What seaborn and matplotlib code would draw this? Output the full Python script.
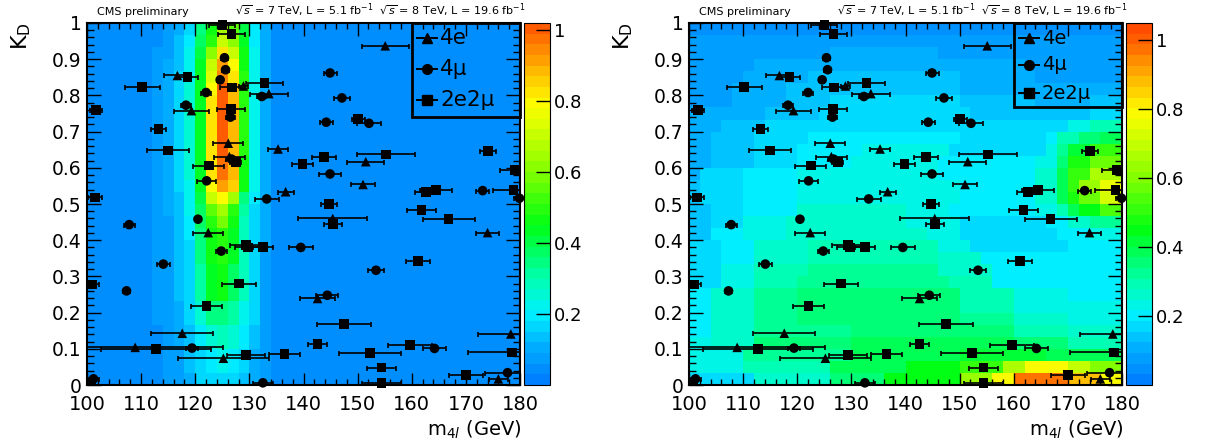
import numpy as np
import pandas as pd
import matplotlib
matplotlib.use("Agg")
import matplotlib.pyplot as plt
from matplotlib.colors import LinearSegmentedColormap, ListedColormap
from matplotlib.patches import Rectangle
from matplotlib.lines import Line2D
from matplotlib.ticker import MultipleLocator, FuncFormatter
import seaborn as sns

plt.rcParams["font.family"] = ["DejaVu Sans"]

# ---------------------------------------------------------------- events
# 4e candidates: m4l (GeV), K_D, per-event mass uncertainty (GeV)
m_4e = [116.7, 128.9, 133.6, 119.3, 126.1, 135.3, 126.3, 136.7, 155.1, 151.5,
        151.0, 122.4, 117.6, 108.9, 125.2, 145.4, 174.0, 142.6, 178.3, 176.0, 100.9]
kd_4e = [0.855, 0.826, 0.805, 0.758, 0.668, 0.652, 0.631, 0.534, 0.937, 0.617,
         0.554, 0.421, 0.143, 0.104, 0.074, 0.460, 0.421, 0.239, 0.141, 0.017, 0.012]
err_4e = [2.5, 0.8, 3.5, 3.3, 2.8, 1.8, 2.9, 1.5, 4.3, 3.45,
          2.2, 2.8, 5.7, 16.3, 8.4, 6.4, 2.2, 3.2, 6.1, 1.7, 0.5]

# 4mu candidates
m_4mu = [125.4, 125.6, 124.6, 122.0, 132.3, 118.3, 126.5, 126.7, 122.1, 133.2,
         144.9, 147.1, 144.2, 152.1, 144.9, 173.1, 179.9, 107.8, 120.5, 124.8,
         139.5, 114.1, 107.3, 119.4, 101.2, 132.5, 164.2, 153.4, 144.4, 177.7]
kd_4mu = [0.904, 0.871, 0.843, 0.808, 0.797, 0.773, 0.740, 0.624, 0.564, 0.514,
          0.862, 0.793, 0.726, 0.723, 0.583, 0.537, 0.516, 0.443, 0.458, 0.370,
          0.380, 0.334, 0.260, 0.102, 0.017, 0.006, 0.101, 0.317, 0.248, 0.034]
err_4mu = [0.6, 0.6, 0.6, 1.0, 0.8, 1.0, 0.8, 1.0, 1.8, 2.2,
           1.2, 1.4, 1.2, 2.3, 2.0, 1.2, 1.0, 1.0, 0.6, 1.0,
           2.2, 1.2, 0.6, 1.2, 1.0, 1.8, 2.2, 1.5, 2.0, 4.2]

# 2e2mu candidates
m_2e2mu = [125.0, 126.7, 118.6, 110.2, 126.8, 132.8, 101.7, 126.6, 113.2, 115.0,
           127.5, 122.5, 139.8, 101.5, 150.1, 174.1, 143.8, 155.2, 162.6, 164.5,
           178.8, 179.1, 129.4, 129.8, 132.5, 101.0, 128.1, 122.1, 112.7, 129.4,
           136.5, 144.7, 145.4, 161.8, 166.8, 161.1, 147.5, 142.6, 159.7, 152.3,
           178.5, 154.4, 170.0, 154.4]
kd_2e2mu = [0.994, 0.969, 0.851, 0.823, 0.822, 0.834, 0.760, 0.763, 0.707, 0.648,
            0.616, 0.606, 0.610, 0.518, 0.734, 0.647, 0.629, 0.637, 0.534, 0.539,
            0.539, 0.594, 0.387, 0.380, 0.382, 0.278, 0.280, 0.219, 0.099, 0.083,
            0.086, 0.500, 0.444, 0.484, 0.459, 0.343, 0.169, 0.114, 0.111, 0.088,
            0.090, 0.048, 0.028, 0.006]
err_2e2mu = [2.4, 2.45, 2.0, 3.2, 2.2, 3.5, 1.1, 2.5, 1.4, 3.85,
             1.0, 2.85, 2.0, 1.3, 1.2, 1.4, 2.15, 5.4, 2.0, 3.0,
             3.7, 2.8, 3.0, 2.5, 1.8, 1.2, 3.1, 2.9, 10.2, 3.5,
             2.8, 1.4, 1.7, 2.75, 4.8, 2.2, 5.0, 1.8, 4.0, 5.7,
             8.1, 2.7, 3.2, 3.6]

# ---------------------------------------------------------------- templates
# 2 GeV mass bins from 100 to 180, 30 K_D bins; rows run from K_D = 1 down to 0
mass_centers = np.arange(101, 180, 2)
kd_centers = (np.arange(30)[::-1] + 0.5) / 30

# signal template (percent): level outside 110-136 GeV, and the band 110-136 GeV
sig_floor = 3
sig_band = [
    "3 5 7 10 18 35 45 65 55 40 20 10 5",
    "3 5 8 12 20 38 50 72 62 42 20 10 5",
    "4 6 9 13 22 40 60 82 72 45 22 11 5",
    "5 7 10 14 22 42 70 90 80 47 22 11 5",
    "5 7 10 15 23 42 75 93 83 48 22 11 5",
    "5 7 10 15 24 43 80 100 87 48 22 11 5",
    "5 7 10 15 24 43 82 100 88 48 22 11 5",
    "5 7 10 15 24 43 82 100 88 48 22 11 5",
    "5 7 10 15 24 43 82 100 88 48 22 11 5",
    "5 7 10 15 24 43 82 100 88 48 22 11 5",
    "5 7 10 15 24 43 82 100 88 48 22 11 5",
    "5 7 10 15 24 43 82 97 87 47 22 11 5",
    "5 7 10 15 24 43 82 97 87 47 22 11 5",
    "5 7 10 15 23 42 80 92 85 45 22 11 5",
    "5 7 10 14 22 40 70 80 65 35 20 10 5",
    "5 7 10 14 21 38 55 65 50 30 18 10 5",
    "5 7 9 13 20 38 50 58 45 28 17 10 5",
    "5 7 9 13 19 35 47 50 43 27 17 10 5",
    "5 6 9 12 18 33 45 48 42 27 17 10 5",
    "5 6 9 12 18 33 45 48 42 27 17 9 5",
    "5 6 8 12 17 30 42 45 38 27 16 9 5",
    "5 6 8 12 17 30 42 45 38 27 16 9 5",
    "5 6 8 12 17 30 42 45 38 27 16 9 5",
    "4 6 8 11 16 24 33 35 30 22 15 9 4",
    "4 6 8 11 16 24 33 35 30 22 15 9 4",
    "4 5 7 10 14 20 25 27 25 20 13 8 4",
    "4 5 7 10 14 20 25 27 25 20 13 8 4",
    "4 5 7 9 12 17 20 22 20 15 11 7 4",
    "4 5 7 9 12 17 20 22 20 15 11 7 4",
    "4 5 6 8 11 15 17 17 17 14 10 6 4",
]

# background template (percent), each row as runs of (number of bins, value)
bkg_runs = [
    [(16, 6), (24, 4)],
    [(13, 8), (7, 9), (10, 8), (10, 7)],
    [(8, 8), (5, 9), (10, 11), (7, 9), (10, 8)],
    [(6, 8), (6, 10), (13, 12), (6, 10), (9, 8)],
    [(5, 8), (6, 10), (14, 13), (7, 11), (8, 9)],
    [(4, 9), (5, 11), (6, 13), (10, 15), (7, 12), (8, 10)],
    [(4, 9), (5, 12), (4, 14), (12, 16), (7, 14), (5, 12), (3, 13)],
    [(3, 10), (4, 12), (5, 15), (14, 17), (8, 15), (3, 14), (3, 17)],
    [(3, 10), (4, 13), (4, 16), (15, 18), (7, 16), (2, 18), (2, 24), (3, 30)],
    [(2, 11), (4, 14), (5, 17), (6, 19), (8, 20), (8, 17), (1, 20), (2, 28), (2, 35), (2, 40)],
    [(2, 12), (4, 15), (4, 17), (6, 20), (8, 22), (9, 18), (1, 22), (1, 32), (2, 42), (3, 50)],
    [(2, 12), (4, 15), (4, 18), (5, 21), (8, 23), (9, 19), (2, 24), (1, 35), (2, 48), (3, 58)],
    [(1, 12), (4, 16), (5, 19), (5, 22), (8, 24), (9, 19), (2, 25), (1, 38), (2, 52), (3, 65)],
    [(1, 13), (4, 16), (5, 20), (11, 24), (4, 22), (7, 19), (2, 26), (1, 40), (1, 52), (2, 62), (2, 75)],
    [(1, 13), (4, 17), (5, 20), (10, 24), (5, 22), (7, 19), (2, 25), (1, 38), (1, 48), (2, 58), (2, 72)],
    [(2, 14), (3, 17), (5, 21), (10, 25), (4, 23), (8, 19), (2, 22), (1, 30), (1, 38), (2, 45), (2, 55)],
    [(2, 15), (3, 18), (4, 22), (11, 26), (5, 23), (8, 18), (2, 20), (2, 25), (3, 32)],
    [(2, 15), (3, 19), (4, 23), (13, 27), (3, 23), (9, 18), (3, 19), (3, 22)],
    [(3, 16), (3, 20), (5, 25), (12, 28), (3, 23), (9, 18), (5, 19)],
    [(3, 17), (3, 21), (5, 27), (12, 30), (4, 25), (8, 19), (5, 19)],
    [(3, 18), (3, 23), (5, 29), (12, 32), (5, 27), (7, 20), (5, 20)],
    [(3, 18), (3, 23), (4, 30), (14, 33), (4, 28), (7, 21), (5, 20)],
    [(2, 19), (4, 25), (4, 31), (15, 34), (5, 29), (5, 23), (5, 21)],
    [(2, 20), (4, 26), (4, 32), (15, 35), (5, 30), (5, 24), (5, 22)],
    [(2, 20), (4, 26), (4, 32), (15, 36), (5, 31), (5, 26), (5, 23)],
    [(2, 21), (4, 27), (9, 33), (15, 37), (5, 30), (5, 27)],
    [(2, 22), (4, 27), (9, 34), (15, 38), (5, 34), (5, 30)],
    [(5, 24), (10, 33), (10, 40), (8, 43), (7, 38)],
    [(5, 22), (8, 30), (7, 40), (5, 45), (4, 50), (2, 65), (4, 80), (2, 70), (3, 60)],
    [(6, 18), (7, 25), (5, 35), (7, 45), (3, 62), (2, 78), (5, 98), (3, 88), (2, 80)],
]

channels = ["4e", "4mu", "2e2mu"]
channel_labels = {"4e": "4e", "4mu": "4\u03bc", "2e2mu": "2e2\u03bc"}
channel_markers = {"4e": "^", "4mu": "o", "2e2mu": "s"}


def signal_table():
    grid = np.full((30, 40), float(sig_floor))
    for r, row in enumerate(sig_band):
        grid[r, 5:18] = [float(v) for v in row.split()]
    return pd.DataFrame(grid / 100.0, index=kd_centers, columns=mass_centers)


def background_table():
    grid = np.array([[v for n, v in row for _ in range(n)] for row in bkg_runs], float)
    return pd.DataFrame(grid / 100.0, index=kd_centers, columns=mass_centers)


events = pd.concat([
    pd.DataFrame({"m4l": m_4e, "kd": kd_4e, "err": err_4e, "channel": "4e"}),
    pd.DataFrame({"m4l": m_4mu, "kd": kd_4mu, "err": err_4mu, "channel": "4mu"}),
    pd.DataFrame({"m4l": m_2e2mu, "kd": kd_2e2mu, "err": err_2e2mu, "channel": "2e2mu"}),
], ignore_index=True)

# colour palette: azure -> cyan -> green -> yellow -> orange-red
palette_stops = [(0.00, (0, 122, 255)), (0.10, (0, 170, 255)), (0.20, (0, 240, 255)),
                 (0.30, (0, 255, 175)), (0.45, (0, 255, 20)), (0.60, (130, 255, 0)),
                 (0.75, (230, 255, 0)), (0.80, (255, 250, 0)), (0.90, (255, 175, 0)),
                 (1.00, (255, 95, 0)), (1.05, (255, 70, 0))]


def make_cmap(vmax, n=34):
    top = palette_stops[-1][0]
    base = LinearSegmentedColormap.from_list(
        "grad", [(v / top, np.array(c) / 255.0) for v, c in palette_stops])
    centers = (np.arange(n) + 0.5) / n * vmax / top
    return ListedColormap(base(centers))


# ---------------------------------------------------------------- figure
W, H = 1207, 444
fig = plt.figure(figsize=(W / 100, H / 100), dpi=100)


def fx(px):
    return px / W


def fy(py):
    return 1 - py / H


def draw_panel(x_axes, table, vmax, legend_bottom, legend_rows, legend_size):
    ax_w, ax_h = 433, 362
    rect = [fx(x_axes), fy(385), fx(ax_w), ax_h / H]
    cbar_rect = [fx(x_axes + 437), fy(385), fx(26), ax_h / H]

    hax = fig.add_axes(rect, label=f"map{x_axes}")
    cax = fig.add_axes(cbar_rect, label=f"cbar{x_axes}")
    sns.heatmap(table, ax=hax, cbar_ax=cax, cmap=make_cmap(vmax), vmin=0, vmax=vmax,
                xticklabels=False, yticklabels=False, linewidths=0)
    hax.set_axis_off()

    cbar = hax.collections[0].colorbar
    cbar.set_ticks([0.2, 0.4, 0.6, 0.8, 1.0])
    cbar.ax.yaxis.set_major_formatter(FuncFormatter(lambda v, _: f"{round(v, 2):g}"))
    cbar.ax.tick_params(direction="in", length=10, width=1, labelsize=13, pad=3)
    cbar.outline.set_linewidth(0.8)

    ax = fig.add_axes(rect, label=f"events{x_axes}")
    ax.patch.set_alpha(0)
    ax.errorbar(events["m4l"], events["kd"], xerr=events["err"], fmt="none",
                ecolor="black", elinewidth=1.2, capsize=1.8, capthick=1.2, zorder=2)
    sns.scatterplot(data=events, x="m4l", y="kd", style="channel",
                    markers=channel_markers, style_order=channels, color="black",
                    s=48, linewidth=0, legend=False, ax=ax, clip_on=False, zorder=3)
    ax.set_xlim(100, 180)
    ax.set_ylim(0, 1)
    ax.set_xlabel("")
    ax.set_ylabel("")

    ax.xaxis.set_major_locator(MultipleLocator(10))
    ax.xaxis.set_minor_locator(MultipleLocator(2))
    ax.yaxis.set_major_locator(MultipleLocator(0.1))
    ax.yaxis.set_minor_locator(MultipleLocator(0.02))
    ax.yaxis.set_major_formatter(FuncFormatter(lambda v, _: f"{round(v, 2):g}"))
    ax.tick_params(which="both", direction="in", top=True, right=True, width=1, color="black")
    ax.tick_params(axis="x", which="major", length=9, labelsize=14, pad=7)
    ax.tick_params(axis="x", which="minor", length=4.5)
    ax.tick_params(axis="y", which="major", length=10, labelsize=13.5, pad=4)
    ax.tick_params(axis="y", which="minor", length=5)
    for sp in ax.spines.values():
        sp.set_linewidth(1.5)
        sp.set_color("black")

    # legend box in the upper right corner
    lx0 = 325 / ax_w
    ly0 = (385 - legend_bottom) / ax_h
    ax.add_patch(Rectangle((lx0, ly0), 1 - lx0, 1.0 - ly0, transform=ax.transAxes,
                           fill=False, edgecolor="black", linewidth=2, clip_on=False, zorder=4))
    for ch, py in zip(channels, legend_rows):
        yy = (385 - py) / ax_h
        ax.add_line(Line2D([0.761, 0.808], [yy, yy], transform=ax.transAxes,
                           color="black", linewidth=1.4, zorder=4))
        ax.add_line(Line2D([0.785], [yy], transform=ax.transAxes, color="black",
                           marker=channel_markers[ch], markersize=7, linewidth=0, zorder=5))
        ax.text(0.815, yy, channel_labels[ch], transform=ax.transAxes, fontsize=legend_size,
                ha="left", va="center", zorder=5)

    # axis titles and header
    off = x_axes - 87
    fig.text(fx(21 + off), fy(22), r"$\mathregular{K_D}$", rotation=90,
             ha="center", va="top", fontsize=16)
    fig.text(fx(521 + off), fy(430), r"m$_{4\mathit{l}}$ (GeV)", ha="right",
             va="center", fontsize=14)
    fig.text(fx(97 + off), fy(15), "CMS preliminary", ha="left", va="baseline", fontsize=8)
    fig.text(fx(235 + off), fy(15),
             r"$\sqrt{s}$ = 7 TeV, L = 5.1 fb$^{-1}$  $\sqrt{s}$ = 8 TeV, L = 19.6 fb$^{-1}$",
             ha="left", va="baseline", fontsize=8)


draw_panel(87, signal_table(), 1.02, 117, [38.3, 69, 100], 15.5)
draw_panel(689, background_table(), 1.05, 107, [38.3, 65, 93.3], 14)

fig.savefig("out.png", dpi=100)
